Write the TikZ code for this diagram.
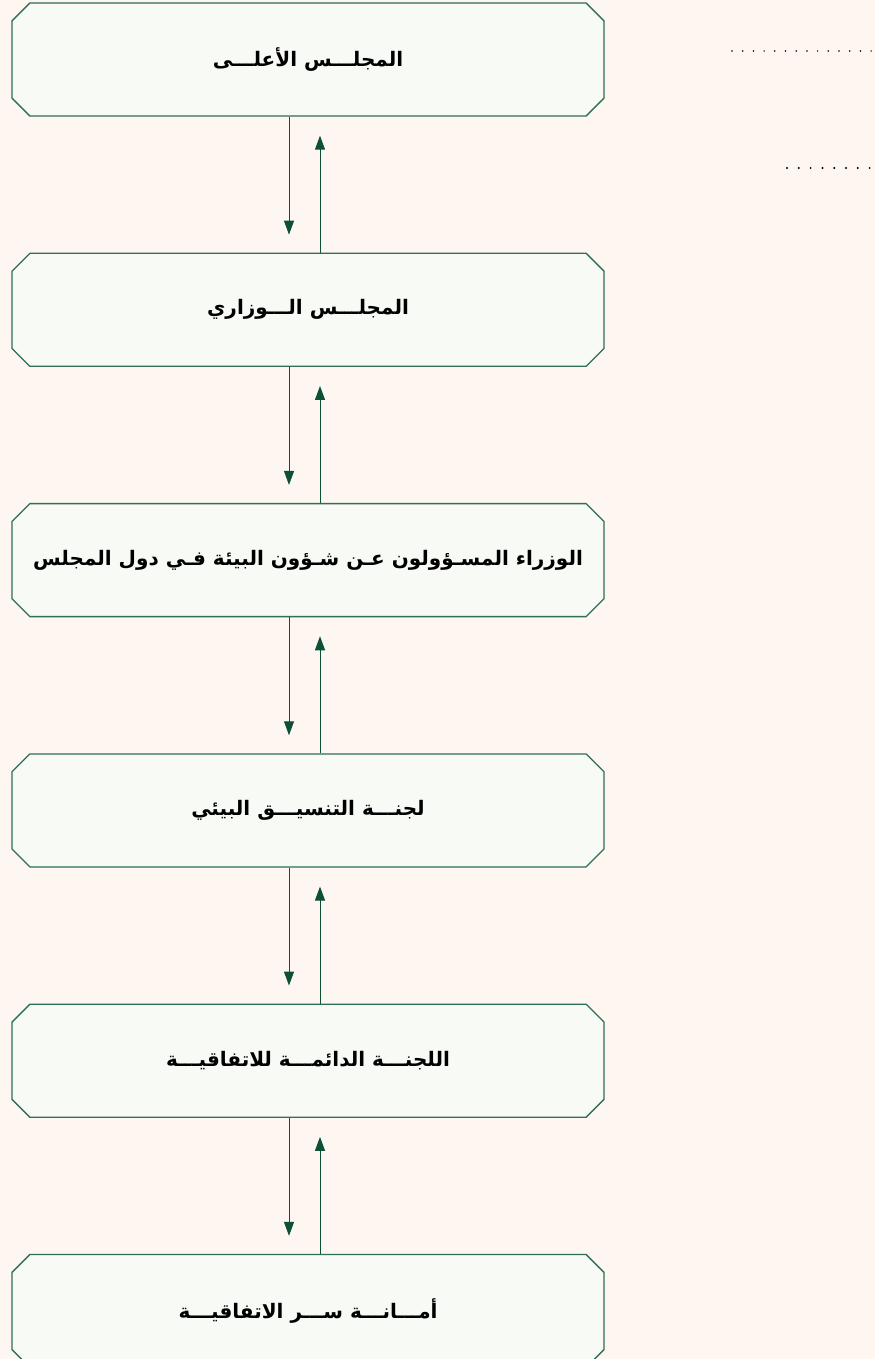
\documentclass[tikz,border=0pt]{standalone}
\usepackage{fontspec}
\usepackage{xcolor}
\usepackage{tikz}
\usetikzlibrary{shapes.misc,positioning,arrows.meta}
\TeXXeTstate=1
\newfontfamily\arabicfont[Script=Arabic,BoldFont={DejaVu Sans Bold}]{DejaVu Sans}
\definecolor{pagebg}{HTML}{FDF6F1}
\definecolor{boxfill}{HTML}{F8FAF5}
\definecolor{boxline}{HTML}{2F6E57}
\definecolor{arrowcol}{HTML}{0B5037}

\begin{document}
\begin{tikzpicture}[
	%	style def
    x=1pt, y=-1pt,
    council/.style={chamfered rectangle, chamfered rectangle ysep=15pt,
        chamfered rectangle angle=45, draw=boxline, fill=boxfill, line width=1.3pt,
        minimum width=592pt, minimum height=113pt, inner sep=0pt,
        font=\arabicfont\bfseries\fontsize{20}{24}\selectfont},
    link/.style={draw=arrowcol, line width=1pt, -{Triangle[length=14pt,width=10pt]}},
    dotrow/.style={line cap=round, dash pattern=on 0pt off #1}
    ]

	% page
	\fill[pagebg] (0,0) rectangle (875,1359);
	\useasboundingbox (0,0) rectangle (875,1359);

	% boxes, top to bottom
	\node[council] (supreme) at (308,59.5) {\beginR المجلـــس الأعلـــى\endR};
	\node[council, below=136pt of supreme] (ministerial) {\beginR المجلـــس الـــوزاري\endR};
	\node[council, below=136pt of ministerial] (ministers) {\beginR الوزراء المسـؤولون عـن شـؤون البيئة فـي دول المجلس\endR};
	\node[council, below=136pt of ministers] (coordination) {\beginR لجنـــة التنسيـــق البيئي\endR};
	\node[council, below=136pt of coordination] (standing) {\beginR اللجنـــة الدائمـــة للاتفاقيـــة\endR};
	\node[council, below=136pt of standing] (secretariat) {\beginR أمـــانـــة ســـر الاتفاقيـــة\endR};

	% pairs of arrows between boxes
	\foreach \upper/\lower in {supreme/ministerial, ministerial/ministers, ministers/coordination,
	                            coordination/standing, standing/secretariat}{
	    \draw[link] ([xshift=-19pt]\upper.south) -- ([xshift=-19pt,yshift=18pt]\lower.north);
	    \draw[link] ([xshift=12pt]\lower.north) -- ([xshift=12pt,yshift=-19pt]\upper.south);
	}

	% dotted rows at the right
	\draw[dotrow=10.7pt, line width=1.7pt] (732,51) coordinate (dotsA) -- (878,51);
	\draw[dotrow=11.8pt, line width=2.2pt] (787,168) coordinate (dotsB) -- (878,168);

\end{tikzpicture}
\end{document}
